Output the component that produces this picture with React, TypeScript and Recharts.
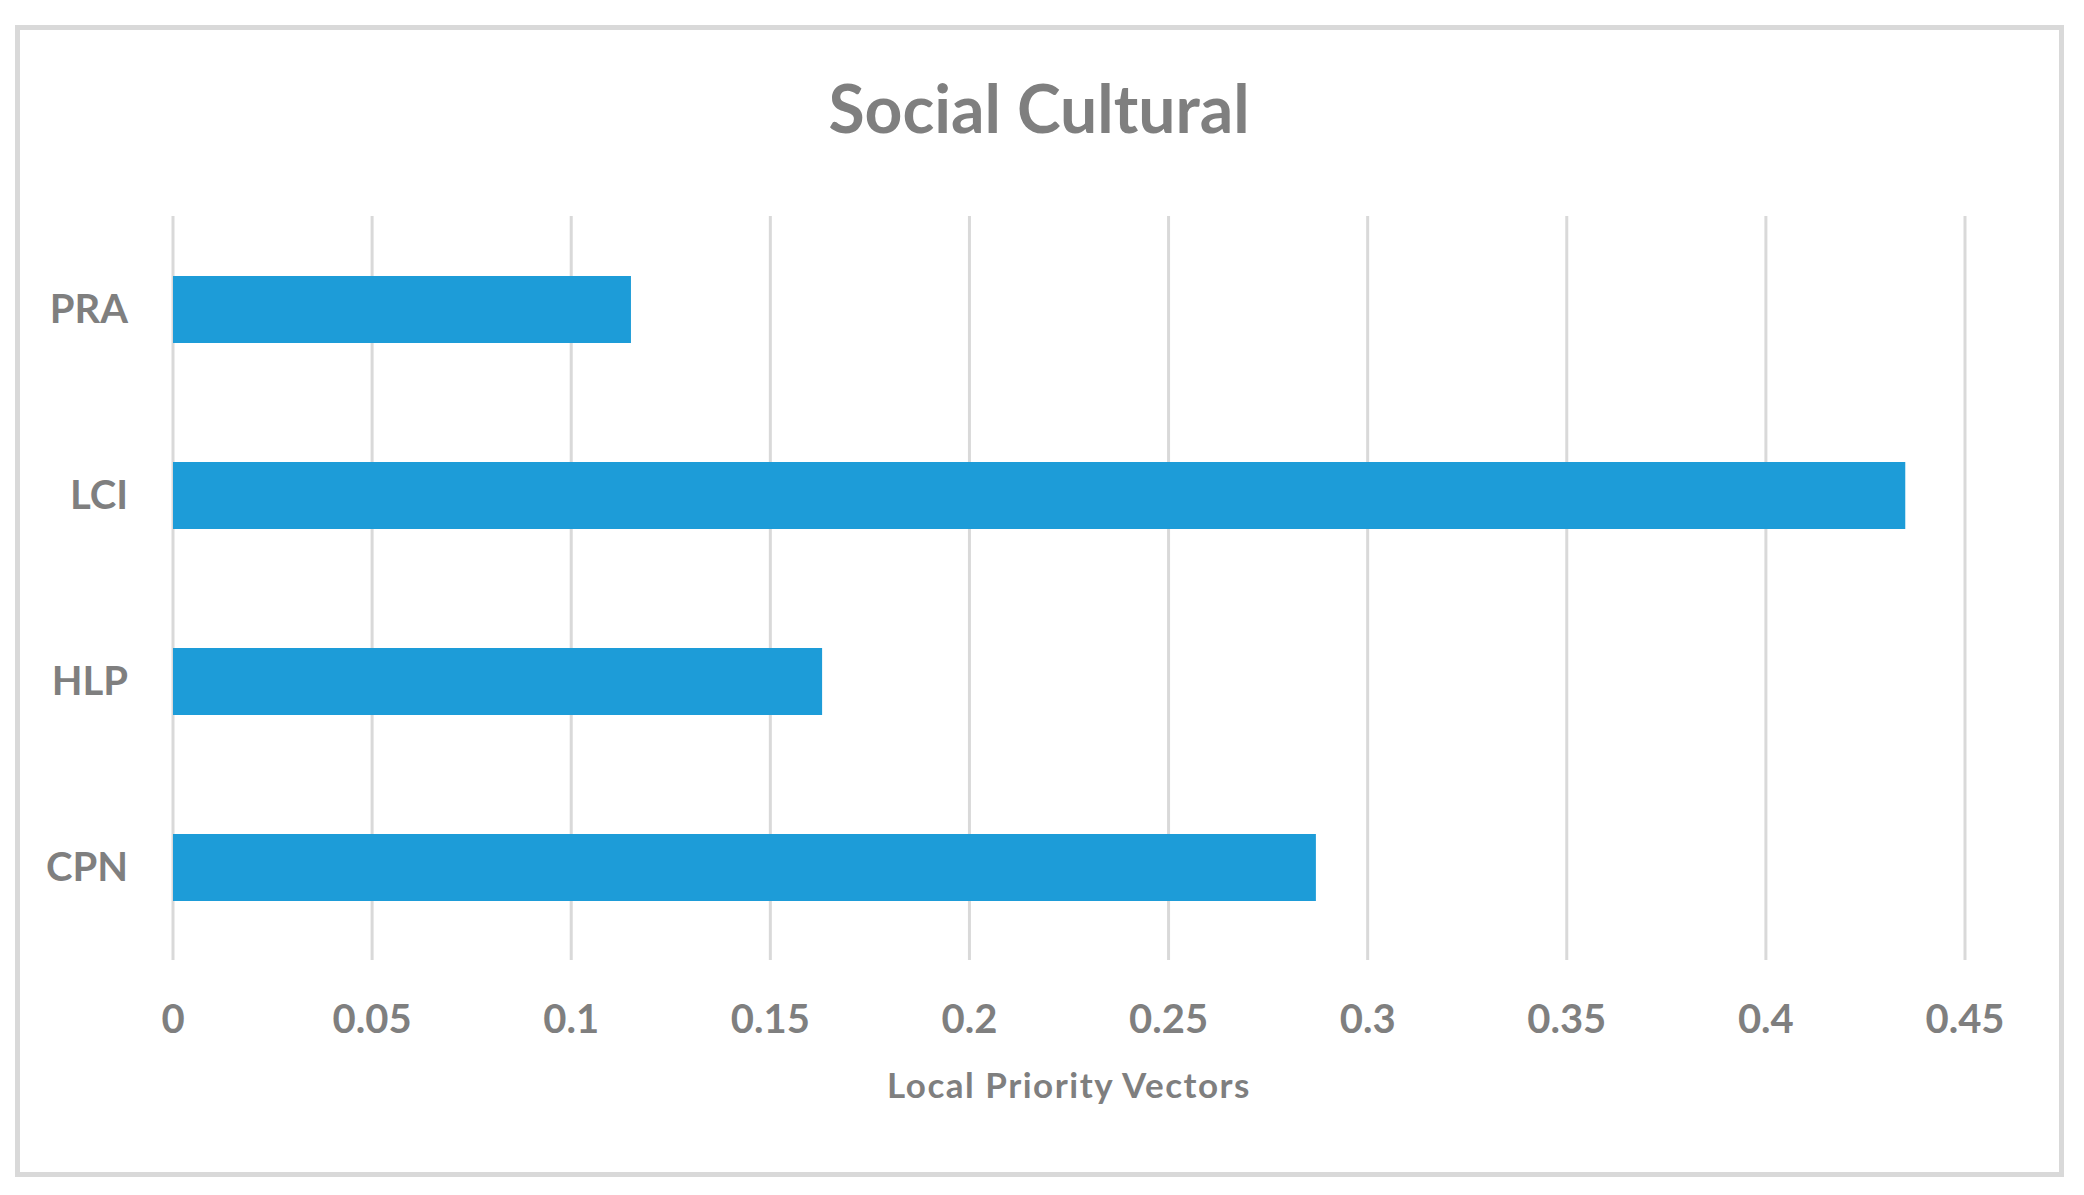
import React from "react";
import { BarChart, Bar, XAxis, YAxis, CartesianGrid, Label } from "recharts";

const categories = ["PRA", "LCI", "HLP", "CPN"];
const values = [0.115, 0.435, 0.163, 0.287];
const xTicks = [0, 0.05, 0.1, 0.15, 0.2, 0.25, 0.3, 0.35, 0.4, 0.45];
const title = "Social Cultural";
const xAxisTitle = "Local Priority Vectors";

const data = categories.map((c, i) => ({ name: c, value: values[i] }));

const FONT = "Lato, 'Open Sans', sans-serif";
const GRAY = "#7f7f7f";

export default function App() {
  return (
    <div style={{ position: "absolute", left: 0, top: 0, width: 2084, height: 1195, background: "#fff" }}>
      <div
        style={{
          position: "absolute",
          left: 15,
          top: 25,
          width: 2039,
          height: 1142,
          border: "5px solid #d9d9d9",
        }}
      />
      <svg width={2084} height={200} style={{ position: "absolute", left: 0, top: 0 }}>
        <text x={1039} y={133} textAnchor="middle" fontFamily={FONT} fontWeight={700} fontSize={66} fill={GRAY}>
          {title}
        </text>
      </svg>
      <div style={{ position: "absolute", left: 0, top: 0 }}>
        <BarChart
          width={2084}
          height={1195}
          data={data}
          layout="vertical"
          margin={{ top: 216, right: 119, bottom: 122, left: 20 }}
          barSize={67}
        >
          <CartesianGrid horizontal={false} vertical={true} stroke="#d9d9d9" strokeWidth={3} />
          <XAxis
            type="number"
            domain={[0, 0.45]}
            ticks={xTicks}
            interval={0}
            axisLine={false}
            tickLine={false}
            tickSize={0}
            tickMargin={45}
            height={113}
            tick={{ fill: GRAY, fontSize: 40, fontFamily: FONT, fontWeight: 700 }}
          >
            <Label
              value={xAxisTitle}
              position="bottom"
              offset={0}
              fill={GRAY}
              fontSize={35}
              fontFamily={FONT}
              fontWeight={700}
              style={{ letterSpacing: "1.5px" }}
            />
          </XAxis>
          <YAxis
            type="category"
            dataKey="name"
            width={153}
            axisLine={false}
            tickLine={false}
            tickSize={0}
            tickMargin={45}
            tick={{ fill: GRAY, fontSize: 40, fontFamily: FONT, fontWeight: 700 }}
          />
          <Bar dataKey="value" fill="#1d9cd8" isAnimationActive={false} />
        </BarChart>
      </div>
    </div>
  );
}
